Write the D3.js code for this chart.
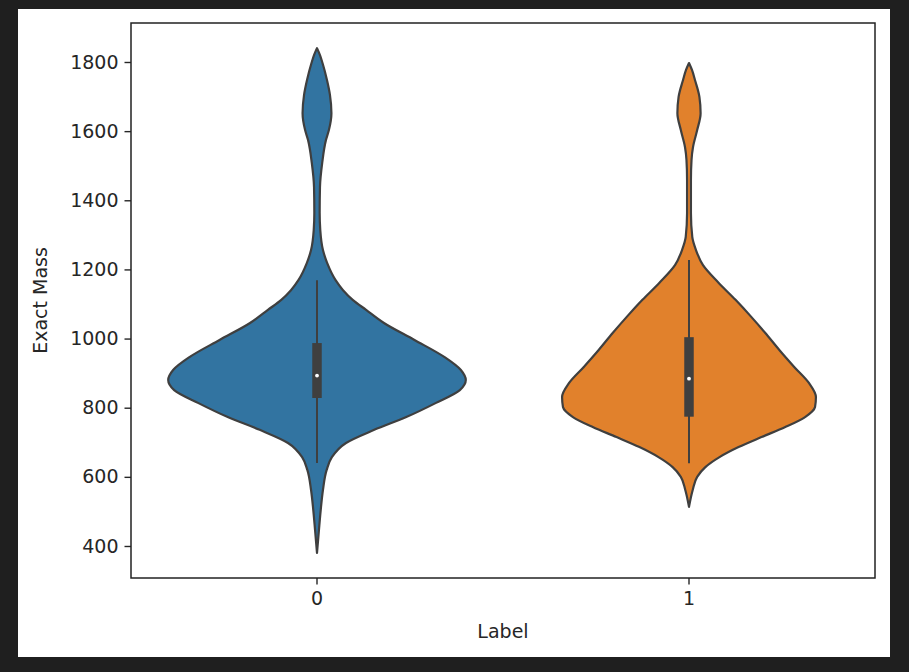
<!DOCTYPE html>
<html><head><meta charset="utf-8">
<script src="https://cdn.jsdelivr.net/npm/d3@7"></script>
<style>body{margin:0;background:#1f1f1f;}svg{display:block;}</style>
</head><body>
<svg id="chart" width="909" height="672"></svg>
<script>
// ---- data ----
const categories = ["0", "1"];
const yTicks = [400, 600, 800, 1000, 1200, 1400, 1600, 1800];
const xLabel = "Label";
const yLabel = "Exact Mass";
// density profiles: [value, relative density]
const density0 = [[1840,0],[1820,0.02],[1797,0.037],[1748,0.067],[1705,0.087],[1652,0.097],[1603,0.08],[1574,0.06],[1508,0.035],[1438,0.02],[1363,0.018],[1314,0.022],[1256,0.04],[1219,0.068],[1169,0.125],[1140,0.175],[1112,0.24],[1083,0.33],[1045,0.45],[996,0.655],[947,0.855],[909,0.967],[880,1.0],[851,0.96],[814,0.8],[773,0.6],[736,0.385],[698,0.195],[657,0.1],[620,0.065],[562,0.04],[504,0.025],[446,0.013],[380,0]];
const density1 = [[1797,0],[1777,0.02],[1748,0.04],[1699,0.07],[1652,0.078],[1603,0.055],[1554,0.027],[1517,0.017],[1459,0.013],[1363,0.013],[1294,0.022],[1256,0.047],[1213,0.093],[1161,0.2],[1112,0.313],[1062,0.42],[1016,0.513],[967,0.607],[918,0.707],[871,0.807],[831,0.853],[802,0.847],[773,0.78],[744,0.647],[715,0.487],[686,0.333],[657,0.205],[628,0.11],[600,0.055],[562,0.025],[513,0]];
// box stats: [whiskerLow, q1, median, q3, whiskerHigh]
const box0 = [640, 828, 893, 987, 1169];
const box1 = [639, 774, 884, 1004, 1227];
const colors = ["#3274a1", "#e1812c"];

const violins = [
  {cat: categories[0], dens: density0, box: box0, color: colors[0]},
  {cat: categories[1], dens: density1, box: box1, color: colors[1]}
];

// ---- layout ----
const svg = d3.select("#chart");
svg.append("rect").attr("x",18).attr("y",9).attr("width",872).attr("height",648).attr("fill","#fff");
const L = 131, R = 875, T = 23, B = 578;
const font = "DejaVu Sans, sans-serif";
const ink = "#262626";
const edge = "#3f3f3f";

const x = d3.scaleBand().domain(categories).range([L, R]).padding(0);
const y = d3.scaleLinear().domain([307.4, 1912.8]).range([B, T]);
const w = d3.scaleLinear().domain([0, 1]).range([0, x.bandwidth() * 0.4]);

const g = svg.append("g");
violins.forEach(v => {
  const cx = x(v.cat) + x.bandwidth() / 2;
  const area = d3.area()
    .y(d => y(d[0]))
    .x0(d => cx - w(d[1]))
    .x1(d => cx + w(d[1]))
    .curve(d3.curveMonotoneY);
  g.append("path").datum(v.dens).attr("d", area)
    .attr("fill", v.color).attr("stroke", edge).attr("stroke-width", 2.2)
    .attr("stroke-linejoin","round");
  // whisker
  g.append("line").attr("x1", cx).attr("x2", cx)
    .attr("y1", y(v.box[0])).attr("y2", y(v.box[4]))
    .attr("stroke", edge).attr("stroke-width", 2);
  // box
  g.append("line").attr("x1", cx).attr("x2", cx)
    .attr("y1", y(v.box[1])).attr("y2", y(v.box[3]))
    .attr("stroke", edge).attr("stroke-width", 9.5);
  // median
  g.append("circle").attr("cx", cx).attr("cy", y(v.box[2])).attr("r", 1.9)
    .attr("fill", "#fff");
});

// axes
const yAxis = svg.append("g").attr("transform", `translate(${L},0)`)
  .call(d3.axisLeft(y).tickValues(yTicks).tickSize(6.5).tickPadding(6).tickFormat(d3.format("d")));
const xAxis = svg.append("g").attr("transform", `translate(0,${B})`)
  .call(d3.axisBottom(x).tickSize(6.5).tickPadding(7));
[yAxis, xAxis].forEach(a => {
  a.select(".domain").remove();
  a.selectAll(".tick line").attr("stroke", ink).attr("stroke-width", 1.4);
  a.selectAll(".tick text").attr("fill", ink).style("font-family", font).style("font-size", "19px");
});
svg.append("rect").attr("x", L).attr("y", T).attr("width", R - L).attr("height", B - T)
  .attr("fill", "none").attr("stroke", "#222").attr("stroke-width", 1.5);

svg.append("text").attr("x", (L + R) / 2).attr("y", 638).attr("text-anchor", "middle")
  .attr("fill", ink).style("font-family", font).style("font-size", "19px").text(xLabel);
svg.append("text").attr("transform", `translate(47,${(T + B) / 2}) rotate(-90)`)
  .attr("text-anchor", "middle").attr("fill", ink)
  .style("font-family", font).style("font-size", "19px").text(yLabel);
</script>
</body></html>
